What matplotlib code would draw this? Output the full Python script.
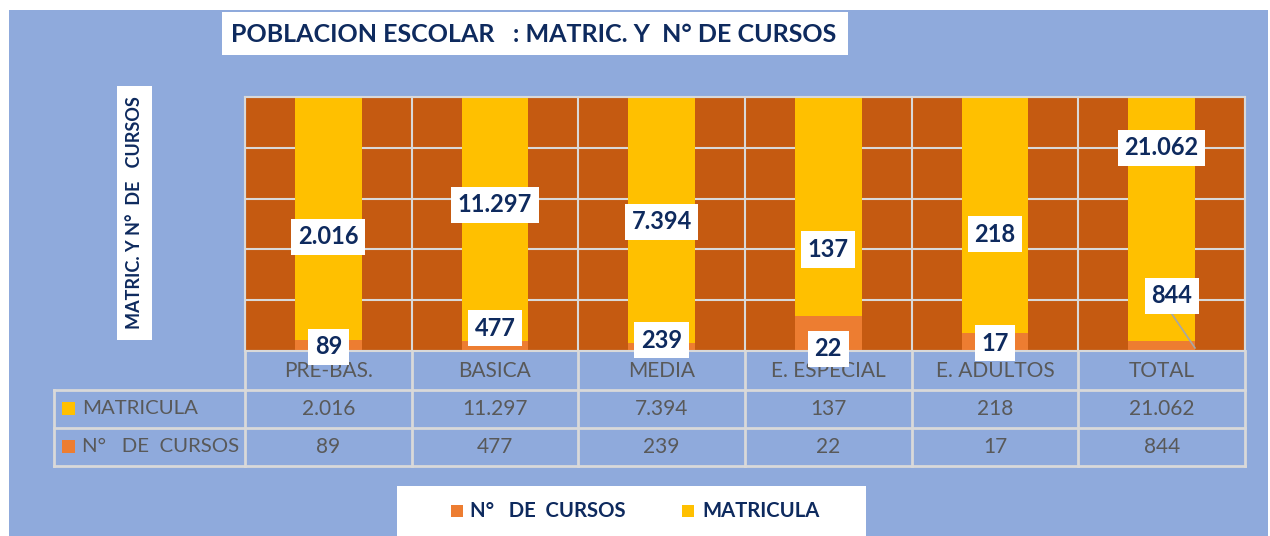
import matplotlib.pyplot as plt
from matplotlib.patches import Rectangle
import numpy as np

plt.rcParams['font.family'] = ['Lato', 'DejaVu Sans']

# data
categories = ['PRE-BAS.', 'BASICA', 'MEDIA', 'E. ESPECIAL', 'E. ADULTOS', 'TOTAL']
matricula = [2016, 11297, 7394, 137, 218, 21062]
cursos = [89, 477, 239, 22, 17, 844]

# where the data labels sit inside each column (share of column height)
lab_y_matric = [0.449, 0.575, 0.508, 0.40, 0.46, 0.80]
lab_y_cursos = [0.016, 0.09, 0.043, 0.008, 0.03, 0.217]

NAVY = '#0E2A5E'
GREY = '#595959'
YELLOW = '#FFC000'
ORANGE = '#ED7D31'
DARK = '#C55A11'
BG = '#8FAADC'
LINE = '#D9D9D9'


def fmt(v):
    return f'{v:,}'.replace(',', '.')


m = np.array(matricula, dtype=float)
c = np.array(cursos, dtype=float)
share_c = c / (m + c)
share_m = m / (m + c)

W, H = 1270, 536
fig = plt.figure(figsize=(W / 100, H / 100), dpi=100, facecolor='white')

# background layer in pixel coordinates
bg = fig.add_axes([0, 0, 1, 1], zorder=0)
bg.set_xlim(0, W)
bg.set_ylim(H, 0)
bg.axis('off')
bg.add_patch(Rectangle((9, 10), 1259, 530, color=BG, lw=0))

# title
bg.add_patch(Rectangle((222, 12), 626, 43, color='white', lw=0))
bg.text(231, 34, 'POBLACION ESCOLAR   : MATRIC. Y  N° DE CURSOS', ha='left', va='center',
        fontsize=18, fontweight='bold', color=NAVY)

# y axis title
bg.add_patch(Rectangle((117, 86), 35, 254, color='white', lw=0))
bg.text(135, 213, 'MATRIC. Y N°  DE   CURSOS', rotation=90, ha='center', va='center',
        fontsize=13, fontweight='bold', color=NAVY)

# chart area
left, right, top, bottom = 245, 1245, 97, 351
ax = fig.add_axes([left / W, (H - bottom) / H, (right - left) / W, (bottom - top) / H], zorder=1)
ax.set_facecolor(DARK)
x = np.arange(len(categories))
ax.bar(x, share_c, width=0.4, color=ORANGE, zorder=2)
ax.bar(x, share_m, bottom=share_c, width=0.4, color=YELLOW, zorder=2)
ax.set_xlim(-0.5, len(categories) - 0.5)
ax.set_ylim(0, 1)
ax.set_yticks(np.arange(0, 1.01, 0.2))
ax.yaxis.grid(True, color=LINE, lw=1.5)
ax.set_axisbelow(True)
ax.vlines(np.arange(-0.5, len(categories)), 0, 1, color=LINE, lw=1.5, zorder=1)
ax.tick_params(length=0, labelleft=False, labelbottom=False)
for s in ax.spines.values():
    s.set_color(LINE)
    s.set_linewidth(1.5)

box = dict(facecolor='white', edgecolor='none', boxstyle='square,pad=0.28')
for i in range(len(categories)):
    ax.text(i, lab_y_matric[i], fmt(matricula[i]), ha='center', va='center', fontsize=17,
            fontweight='bold', color=NAVY, bbox=box, zorder=5, clip_on=False)
    dx = 0.06 if categories[i] == 'TOTAL' else 0
    ax.text(i + dx, lab_y_cursos[i], fmt(cursos[i]), ha='center', va='center', fontsize=17,
            fontweight='bold', color=NAVY, bbox=box, zorder=5, clip_on=False)
# leader line for the TOTAL label
it = categories.index('TOTAL')
ax.plot([it + 0.06, it + 0.2], [lab_y_cursos[it] - 0.07, 0.012], color='#A6A6A6', lw=1.2, zorder=4)

# data table
col_w = (right - left) / len(categories)
bounds = [left + k * col_w for k in range(len(categories) + 1)]
centers = [left + (k + 0.5) * col_w for k in range(len(categories))]
rows_y = [351, 390, 428, 466]
for yy in rows_y[1:]:
    bg.plot([54, right], [yy, yy], color=LINE, lw=2)
bg.plot([54, 54], [390, 466], color=LINE, lw=2)
for bx in bounds:
    bg.plot([bx, bx], [351, 466], color=LINE, lw=2)

for k, cat in enumerate(categories):
    bg.text(centers[k], 371, cat, ha='center', va='center', fontsize=15, color=GREY)
    bg.text(centers[k], 409, fmt(matricula[k]), ha='center', va='center', fontsize=15, color=GREY)
    bg.text(centers[k], 447, fmt(cursos[k]), ha='center', va='center', fontsize=15, color=GREY)

bg.add_patch(Rectangle((62, 402), 13, 13, color=YELLOW, lw=0))
bg.text(82, 409, 'MATRICULA', ha='left', va='center', fontsize=14.7, color=GREY)
bg.add_patch(Rectangle((62, 440), 13, 13, color=ORANGE, lw=0))
bg.text(82, 447, 'N°   DE  CURSOS', ha='left', va='center', fontsize=14.7, color=GREY)

# legend
bg.add_patch(Rectangle((397, 486), 469, 52, color='white', lw=0))
bg.add_patch(Rectangle((451, 505), 12, 12, color=ORANGE, lw=0))
bg.text(470, 511, 'N°   DE  CURSOS', ha='left', va='center', fontsize=14.6, fontweight='bold', color=NAVY)
bg.add_patch(Rectangle((682, 505), 12, 12, color=YELLOW, lw=0))
bg.text(702, 511, 'MATRICULA', ha='left', va='center', fontsize=14.6, fontweight='bold', color=NAVY)

fig.savefig('out.png', dpi=100, facecolor='white')
